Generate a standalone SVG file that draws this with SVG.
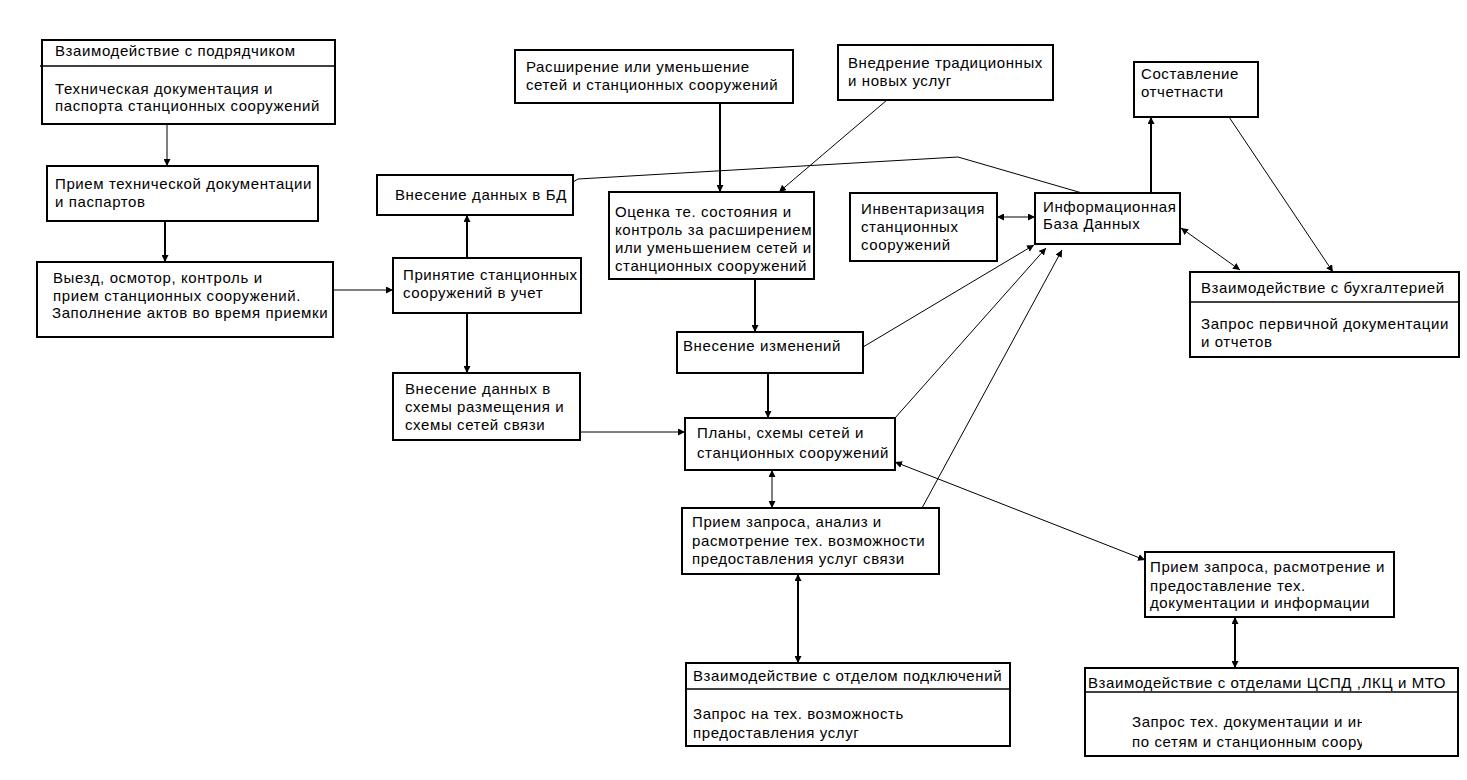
<svg xmlns="http://www.w3.org/2000/svg" width="1467" height="780" viewBox="0 0 1467 780">
<defs>
<style>
.box{fill:#fff;stroke:#000;stroke-width:2}
.div{stroke:#000;stroke-width:1.5}
.t{font-family:"Liberation Sans",Arial,sans-serif;font-size:15px;letter-spacing:0.6px;fill:#000}
.c1{fill:none;stroke:#000;stroke-width:1}
.c2{fill:none;stroke:#000;stroke-width:2}
</style>
<marker id="ah" viewBox="0 0 10 10" refX="10" refY="5" markerWidth="7" markerHeight="7" markerUnits="userSpaceOnUse" orient="auto-start-reverse">
<path d="M0,0 L10,5 L0,10 z" fill="#000"/>
</marker>
<clipPath id="clipC"><rect x="1086" y="693" width="276" height="62"/></clipPath>
</defs>
<rect width="1467" height="780" fill="#fff"/>

<g id="connectors">
<line class="c1" x1="167" y1="124" x2="167" y2="166" marker-end="url(#ah)"/>
<line class="c2" x1="165" y1="221" x2="165" y2="262" marker-end="url(#ah)"/>
<line class="c1" x1="333" y1="290" x2="393" y2="290" marker-end="url(#ah)"/>
<line class="c2" x1="467" y1="258" x2="467" y2="215" marker-end="url(#ah)"/>
<line class="c2" x1="467" y1="313" x2="467" y2="373" marker-end="url(#ah)"/>
<line class="c1" x1="580" y1="432" x2="685" y2="432" marker-end="url(#ah)"/>
<polyline class="c1" points="573,182 578,179 958,157 1082,193"/>
<line class="c2" x1="720" y1="103" x2="720" y2="192" marker-end="url(#ah)"/>
<line class="c1" x1="887" y1="100" x2="779" y2="192" marker-end="url(#ah)"/>
<line class="c2" x1="755" y1="279" x2="755" y2="332" marker-end="url(#ah)"/>
<line class="c2" x1="768" y1="373" x2="768" y2="418" marker-end="url(#ah)"/>
<line class="c1" x1="863" y1="347" x2="1034" y2="245" marker-end="url(#ah)"/>
<line class="c1" x1="895" y1="418" x2="1046" y2="248" marker-end="url(#ah)"/>
<line class="c1" x1="922" y1="508" x2="1062" y2="250" marker-end="url(#ah)"/>
<line class="c1" x1="997" y1="217" x2="1035" y2="217" marker-start="url(#ah)" marker-end="url(#ah)"/>
<line class="c2" x1="1151" y1="193" x2="1151" y2="117" marker-end="url(#ah)"/>
<line class="c1" x1="1229" y1="117" x2="1333" y2="272" marker-end="url(#ah)"/>
<line class="c1" x1="1181" y1="228" x2="1240" y2="270" marker-start="url(#ah)" marker-end="url(#ah)"/>
<line class="c1" x1="772" y1="470" x2="772" y2="508" marker-start="url(#ah)" marker-end="url(#ah)"/>
<line class="c2" x1="798" y1="574" x2="798" y2="663" marker-start="url(#ah)" marker-end="url(#ah)"/>
<line class="c1" x1="895" y1="462" x2="1145" y2="560" marker-start="url(#ah)" marker-end="url(#ah)"/>
<line class="c2" x1="1235" y1="617" x2="1235" y2="668" marker-start="url(#ah)" marker-end="url(#ah)"/>
</g>

<g id="n-podryad">
<rect class="box" x="42" y="40" width="293" height="84"/>
<line class="div" x1="40" y1="66" x2="335" y2="66"/>
<text class="t" x="55" y="56">Взаимодействие с подрядчиком</text>
<text class="t" x="55" y="94">Техническая документация и</text>
<text class="t" x="55" y="111">паспорта станционных сооружений</text>
</g>

<g id="n-priem-doc">
<rect class="box" x="47" y="166" width="271" height="55"/>
<text class="t" x="55" y="189">Прием технической документации</text>
<text class="t" x="55" y="207">и паспартов</text>
</g>

<g id="n-vyezd">
<rect class="box" x="37" y="262" width="296" height="75"/>
<text class="t" x="53" y="283">Выезд, осмотор, контроль и</text>
<text class="t" x="53" y="301">прием станционных сооружений.</text>
<text class="t" x="52" y="318">Заполнение актов  во время приемки</text>
</g>

<g id="n-vnes-bd">
<rect class="box" x="377" y="175" width="196" height="40"/>
<text class="t" x="395" y="200">Внесение данных в  БД</text>
</g>

<g id="n-prinyatie">
<rect class="box" x="393" y="258" width="188" height="55"/>
<text class="t" x="403" y="280">Принятие станционных</text>
<text class="t" x="403" y="298">сооружений в учет</text>
</g>

<g id="n-vnes-shemy">
<rect class="box" x="393" y="373" width="187" height="67"/>
<text class="t" x="405" y="394">Внесение данных в</text>
<text class="t" x="405" y="412">схемы размещения и</text>
<text class="t" x="405" y="430">схемы сетей связи</text>
</g>

<g id="n-rasshir">
<rect class="box" x="515" y="50" width="278" height="53"/>
<text class="t" x="526" y="72">Расширение или уменьшение</text>
<text class="t" x="526" y="90">сетей и станционных сооружений</text>
</g>

<g id="n-vnedr">
<rect class="box" x="838" y="45" width="215" height="55"/>
<text class="t" x="848" y="68">Внедрение традиционных</text>
<text class="t" x="848" y="86">и новых услуг</text>
</g>

<g id="n-ocenka">
<rect class="box" x="609" y="192" width="205" height="87"/>
<text class="t" x="615" y="217">Оценка те. состояния и</text>
<text class="t" x="615" y="235">контроль за расширением</text>
<text class="t" x="615" y="253">или уменьшением сетей и</text>
<text class="t" x="615" y="271">станционных сооружений</text>
</g>

<g id="n-izmen">
<rect class="box" x="677" y="332" width="186" height="41"/>
<text class="t" x="683" y="351">Внесение изменений</text>
</g>

<g id="n-plany">
<rect class="box" x="685" y="418" width="210" height="52"/>
<text class="t" x="697" y="438">Планы, схемы сетей и</text>
<text class="t" x="697" y="458">станционных сооружений</text>
</g>

<g id="n-inv">
<rect class="box" x="850" y="193" width="147" height="68"/>
<text class="t" x="861" y="214">Инвентаризация</text>
<text class="t" x="861" y="232">станционных</text>
<text class="t" x="861" y="250">сооружений</text>
</g>

<g id="n-ibd">
<rect class="box" x="1035" y="193" width="145" height="51"/>
<text class="t" x="1043" y="212">Информационная</text>
<text class="t" x="1043" y="229">База Данных</text>
</g>

<g id="n-sostav">
<rect class="box" x="1134" y="62" width="124" height="55"/>
<text class="t" x="1141" y="79">Составление</text>
<text class="t" x="1141" y="97">отчетнасти</text>
</g>

<g id="n-buh">
<rect class="box" x="1190" y="272" width="269" height="85"/>
<line class="div" x1="1190" y1="302" x2="1459" y2="302"/>
<text class="t" x="1201" y="293">Взаимодействие с бухгалтерией</text>
<text class="t" x="1201" y="329">Запрос первичной документации</text>
<text class="t" x="1201" y="347">и отчетов</text>
</g>

<g id="n-priem-analiz">
<rect class="box" x="682" y="508" width="257" height="66"/>
<text class="t" x="692" y="527">Прием запроса, анализ и</text>
<text class="t" x="692" y="546">расмотрение тех. возможности</text>
<text class="t" x="692" y="564">предоставления услуг связи</text>
</g>

<g id="n-podkl">
<rect class="box" x="686" y="663" width="324" height="83"/>
<line class="div" x1="686" y1="689" x2="1010" y2="689"/>
<text class="t" x="693" y="681">Взаимодействие с отделом подключений</text>
<text class="t" x="693" y="719">Запрос на тех. возможность</text>
<text class="t" x="693" y="738">предоставления услуг</text>
</g>

<g id="n-priem-rasm">
<rect class="box" x="1145" y="552" width="249" height="65"/>
<text class="t" x="1150" y="572">Прием запроса, расмотрение и</text>
<text class="t" x="1150" y="591">предоставление тех.</text>
<text class="t" x="1150" y="608">документации и информации</text>
</g>

<g id="n-cspd">
<rect class="box" x="1085" y="668" width="373" height="88"/>
<line class="div" x1="1085" y1="692" x2="1458" y2="692"/>
<text class="t" x="1088" y="688">Взаимодействие с отделами ЦСПД ,ЛКЦ и МТО</text>
<g clip-path="url(#clipC)">
<text class="t" x="1132" y="727">Запрос тех. документации и ин</text>
<text class="t" x="1132" y="747">по сетям и станционным соору</text>
</g>
</g>
</svg>
